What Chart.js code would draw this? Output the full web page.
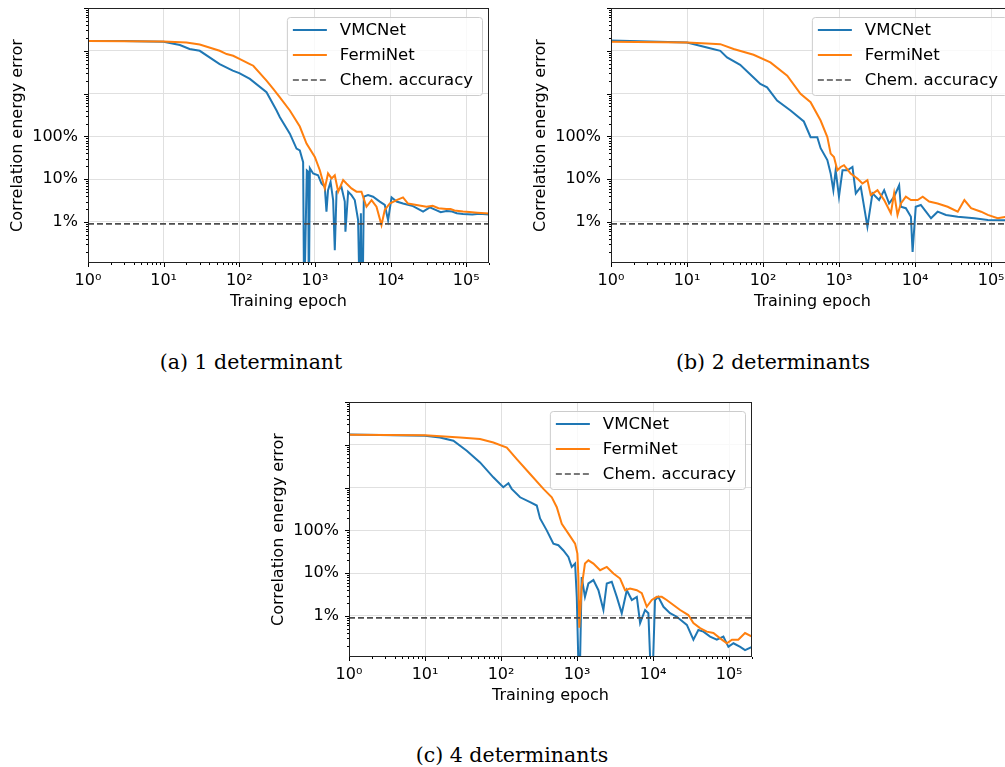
<!DOCTYPE html>
<html>
<head>
<meta charset="utf-8">
<script src="https://cdn.jsdelivr.net/npm/chart.js@4.4.1/dist/chart.umd.min.js"></script>
<style>
  html, body { margin: 0; padding: 0; background: #fff; width: 1005px; height: 767px; overflow: hidden; }
  canvas { position: absolute; }
  #cA { left: 0; top: 0; }
  #cB { left: 523px; top: 0; }
  #cC { left: 261px; top: 394px; }
  .cap { position: absolute; font-family: "DejaVu Serif", serif; font-size: 20.5px; color: #000;
         transform: translate(-50%, -50%); white-space: nowrap; }
</style>
</head>
<body>
<canvas id="cA" width="500" height="320"></canvas>
<canvas id="cB" width="502" height="320"></canvas>
<canvas id="cC" width="502" height="320"></canvas>
<div class="cap" style="left:251px; top:362px;">(a) 1 determinant</div>
<div class="cap" style="left:773px; top:362px;">(b) 2 determinants</div>
<div class="cap" style="left:512px; top:755px;">(c) 4 determinants</div>
<script>
// axis setup
const xMin = 1, xMax = 200000;
const yMin = 0.11, yMax = 100000;        // error in percent
const xTickValues = [1, 10, 100, 1000, 10000, 100000];
const xTickLabels = ["10⁰", "10¹", "10²", "10³", "10⁴", "10⁵"];
const yTickValues = [1, 10, 100];
const yTickLabels = ["1%", "10%", "100%"];
const chemAccuracy = 0.9;

const seriesNames = ["VMCNet", "FermiNet", "Chem. accuracy"];

// (a) 1 determinant
const epochsA_vmc = [1, 3, 10, 16.4, 22, 30, 55, 82, 100, 138, 229, 311, 344, 466, 571, 631, 698, 720, 781, 815, 830, 857, 946, 1100, 1220, 1350, 1420, 1490, 1610, 1740, 1830, 1930, 2240, 2480, 2530, 2750, 3040, 3360, 3720, 3920, 4050, 4150, 4250, 4430, 5040, 5870, 7200, 8380, 9270, 10300, 12000, 14600, 19800, 26900, 33000, 40000, 46000, 54700, 65000, 75000, 90700, 120000, 150000, 200000];
const errA_vmc    = [17000, 17000, 16200, 13600, 11000, 10000, 4900, 3430, 3000, 2200, 1080, 403, 281, 116, 52, 47, 25, 0.01, 16, 15, 0.01, 18, 13.6, 12.4, 7.9, 6.6, 1.74, 5.5, 8.6, 3.25, 0.22, 5.1, 6.6, 3.0, 0.59, 5.1, 4.25, 3.25, 1.1, 0.01, 1.6, 0.01, 0.01, 3.9, 4.25, 3.9, 3.0, 2.5, 1.1, 3.75, 3.0, 2.7, 2.35, 1.75, 2.2, 1.9, 1.7, 1.8, 1.75, 1.6, 1.53, 1.5, 1.55, 1.5];
const epochsA_fermi = [1, 10, 20, 30, 55, 68, 83, 102, 138, 153, 229, 281, 344, 466, 631, 774, 997, 1160, 1350, 1490, 1660, 1830, 2030, 2360, 2610, 3040, 3540, 4120, 4800, 5600, 6510, 7580, 8380, 9750, 12000, 14600, 17000, 29800, 36000, 43000, 54700, 62000, 70000, 90700, 110000, 140000, 200000];
const errA_fermi    = [17000, 16500, 15600, 14000, 10000, 8400, 7650, 6400, 4900, 4480, 2000, 1290, 820, 403, 170, 68, 33, 16.2, 6.1, 13.6, 10.4, 12.4, 5.1, 9.5, 7.9, 6.1, 5.1, 5.1, 2.27, 3.25, 2.27, 0.85, 1.9, 2.7, 3.25, 3.75, 2.7, 2.27, 2.4, 2.1, 2.0, 2.0, 1.85, 1.75, 1.7, 1.65, 1.58];

// (b) 2 determinants
const epochsB_vmc = [1, 10, 18.3, 27.4, 33.6, 50, 75, 92, 113, 153, 230, 344, 422, 517, 572, 701, 775, 841, 902, 997, 1110, 1290, 1500, 1660, 1930, 2360, 2750, 3360, 3920, 4550, 5300, 6170, 6500, 7560, 8810, 9270, 10200, 11900, 13900, 16200, 19800, 25500, 36400, 60300, 90400, 200000];
const errB_vmc    = [17500, 15600, 11900, 10000, 7000, 4700, 2390, 1680, 1400, 690, 403, 223, 96, 96, 53, 28, 13.6, 5.5, 16.2, 3.9, 16.2, 16.2, 19.3, 4.65, 6.6, 0.78, 4.65, 3.25, 5.55, 2.7, 3.9, 7.2, 2.27, 2.1, 1.33, 0.2, 2.27, 2.5, 1.74, 1.22, 1.74, 1.46, 1.33, 1.22, 1.11, 1.1];
const epochsB_fermi = [1, 10, 18.3, 27.4, 41, 75, 125, 208, 311, 422, 572, 701, 775, 857, 950, 1050, 1160, 1420, 1740, 2030, 2360, 2610, 3200, 3920, 4800, 5300, 5870, 6500, 7560, 8810, 10800, 12600, 15300, 19800, 26800, 36400, 44500, 54500, 73800, 90400, 122000, 158000, 200000];
const errB_fermi    = [16200, 15600, 14800, 14300, 11000, 8070, 5350, 2620, 984, 628, 235, 96, 39.6, 33, 16.2, 19.3, 21.2, 13.6, 10.4, 7.9, 9.5, 4.25, 5.55, 3.25, 1.6, 4.65, 1.46, 2.7, 3.9, 3.25, 3.25, 3.9, 3.0, 2.7, 2.27, 1.74, 3.25, 2.1, 1.74, 1.46, 1.22, 1.33, 1.3];

// (c) 4 determinants
const epochsC_vmc = [1, 10, 15.7, 23.6, 35.4, 52.9, 79.2, 107, 125, 138, 178, 241, 295, 326, 399, 488, 568, 661, 769, 851, 942, 991, 1070, 1150, 1270, 1410, 1640, 1910, 2220, 2460, 2860, 3330, 3870, 4510, 5250, 6110, 6750, 7850, 8670, 9620, 10600, 11700, 13700, 16700, 20500, 27800, 33900, 39400, 45900, 56200, 68900, 84100, 97900, 114000, 140000, 162000, 200000];
const errC_vmc    = [17500, 16200, 14800, 12400, 7240, 3870, 1740, 1020, 1260, 933, 594, 455, 381, 190, 100, 49, 45, 34, 24, 14, 16.8, 2.8, 0.01, 8.1, 2.8, 5.75, 6.9, 4.0, 1.38, 5.75, 6.3, 2.8, 1.16, 4.0, 2.36, 2.8, 0.68, 1.38, 1.16, 0.01, 2.36, 2.8, 1.64, 1.16, 0.96, 0.62, 0.28, 0.47, 0.43, 0.33, 0.28, 0.33, 0.19, 0.23, 0.19, 0.16, 0.19];
const epochsC_fermi = [1, 10, 28.9, 52.9, 79.2, 119, 161, 241, 361, 465, 541, 629, 769, 942, 1010, 1040, 1070, 1150, 1270, 1410, 1640, 2010, 2460, 3010, 3680, 4280, 4980, 6110, 7100, 8260, 9620, 11200, 13000, 15100, 18500, 22700, 29100, 33900, 41500, 50900, 62100, 76200, 93300, 109000, 132000, 162000, 200000];
const errC_fermi    = [17100, 16800, 14800, 13600, 11300, 8650, 4640, 2080, 933, 594, 348, 143, 84, 49, 28.7, 8.2, 0.53, 4.8, 16.8, 20, 16.8, 11.7, 14, 9.8, 7.5, 4.0, 4.4, 4.0, 3.4, 1.64, 2.36, 2.8, 2.8, 2.36, 1.8, 1.38, 1.05, 0.68, 0.52, 0.43, 0.4, 0.3, 0.23, 0.28, 0.28, 0.4, 0.33];

const blue = "#1f77b4", orange = "#ff7f0e", dashGray = "#4d4d4d";

Chart.defaults.font.family = "'DejaVu Sans', sans-serif";
Chart.defaults.font.size = 16;
Chart.defaults.color = "#000";

function pairs(xs, ys) {
  return xs.map((x, i) => ({ x: x, y: ys[i] }));
}

function logTicks(min, max) {
  const out = [];
  for (let e = Math.floor(Math.log10(min)); e <= Math.ceil(Math.log10(max)); e++) {
    for (let m = 1; m < 10; m++) {
      const v = m * Math.pow(10, e);
      if (v >= min * 0.999 && v <= max * 1.001) out.push({ value: v, major: m === 1 });
    }
  }
  return out;
}

function labelFor(value, values, labels) {
  const i = values.findIndex(v => Math.abs(v - value) < v * 1e-9);
  return i < 0 ? "" : labels[i];
}

const decorPlugin = {
  id: "decor",
  afterDraw(chart) {
    const { ctx, chartArea: a, scales } = chart;
    ctx.save();
    // tick marks
    ctx.strokeStyle = "#000";
    ctx.lineWidth = 1;
    scales.x.ticks.forEach(t => {
      const px = Math.round(scales.x.getPixelForValue(t.value)) + 0.5;
      ctx.beginPath();
      ctx.moveTo(px, a.bottom);
      ctx.lineTo(px, a.bottom + (t.major ? 4 : 2));
      ctx.stroke();
    });
    scales.y.ticks.forEach(t => {
      const py = Math.round(scales.y.getPixelForValue(t.value)) + 0.5;
      ctx.beginPath();
      ctx.moveTo(a.left, py);
      ctx.lineTo(a.left - (t.major ? 4 : 2), py);
      ctx.stroke();
    });
    // frame
    ctx.strokeStyle = "#222";
    ctx.strokeRect(a.left + 0.5, a.top + 0.5, a.right - a.left - 1, a.bottom - a.top - 1);

    // legend, top right inside the axes
    const ds = chart.data.datasets;
    ctx.font = "16.5px 'DejaVu Sans', sans-serif";
    const textW = Math.max(...ds.map(d => ctx.measureText(d.label).width));
    const w = 53 + textW + 9, h = 78;
    const bx = a.right - 7 - w, by = a.top + 9;
    ctx.beginPath();
    ctx.roundRect(bx + 0.5, by + 0.5, w, h, 3);
    ctx.fillStyle = "rgba(255,255,255,0.8)";
    ctx.fill();
    ctx.strokeStyle = "#cccccc";
    ctx.stroke();
    ds.forEach((d, i) => {
      const y = by + 13 + i * 25;
      ctx.beginPath();
      ctx.setLineDash(d.borderDash || []);
      ctx.strokeStyle = d.borderColor;
      ctx.lineWidth = d.borderWidth;
      ctx.moveTo(bx + 6, y);
      ctx.lineTo(bx + 40, y);
      ctx.stroke();
      ctx.setLineDash([]);
      ctx.fillStyle = "#000";
      ctx.textBaseline = "middle";
      ctx.fillText(d.label, bx + 53, y + 1);
    });
    ctx.restore();
  }
};

function makeChart(id, vmcX, vmcY, fermiX, fermiY) {
  return new Chart(document.getElementById(id), {
    type: "line",
    data: {
      datasets: [
        { label: seriesNames[0], data: pairs(vmcX, vmcY), borderColor: blue, borderWidth: 2, order: 3 },
        { label: seriesNames[1], data: pairs(fermiX, fermiY), borderColor: orange, borderWidth: 2, order: 2 },
        { label: seriesNames[2], data: [{ x: xMin, y: chemAccuracy }, { x: xMax, y: chemAccuracy }],
          borderColor: dashGray, borderWidth: 1.7, borderDash: [6, 3], order: 1 }
      ]
    },
    options: {
      responsive: false,
      animation: false,
      devicePixelRatio: 1,
      layout: { padding: { top: 8, right: 11, left: 0, bottom: 0 } },
      elements: { point: { radius: 0 }, line: { tension: 0 } },
      datasets: { line: { clip: 0 } },
      plugins: { legend: { display: false }, tooltip: { enabled: false } },
      scales: {
        x: {
          type: "logarithmic",
          min: xMin, max: xMax,
          afterBuildTicks: s => { s.ticks = logTicks(xMin, xMax); },
          afterFit: s => { s.height = 57; s.paddingLeft = 0; s.paddingRight = 0; },
          ticks: {
            autoSkip: false, maxRotation: 0, padding: 8,
            callback: v => labelFor(v, xTickValues, xTickLabels)
          },
          grid: {
            drawTicks: false,
            color: c => (c.tick && c.tick.major ? "#e0e0e0" : "rgba(0,0,0,0)")
          },
          border: { display: false },
          title: { display: true, text: "Training epoch", padding: { top: 0, bottom: 9 } }
        },
        y: {
          type: "logarithmic",
          min: yMin, max: yMax,
          afterBuildTicks: s => { s.ticks = logTicks(yMin, yMax); },
          afterFit: s => { s.width = 88; s.paddingTop = 0; s.paddingBottom = 0; },
          ticks: {
            autoSkip: false, padding: 10,
            callback: v => labelFor(v, yTickValues, yTickLabels)
          },
          grid: {
            drawTicks: false,
            color: c => (c.tick && c.tick.major ? "#e0e0e0" : "rgba(0,0,0,0)")
          },
          border: { display: false },
          title: { display: true, text: "Correlation energy error", padding: { top: 8, bottom: 0 } }
        }
      }
    },
    plugins: [decorPlugin]
  });
}

makeChart("cA", epochsA_vmc, errA_vmc, epochsA_fermi, errA_fermi);
makeChart("cB", epochsB_vmc, errB_vmc, epochsB_fermi, errB_fermi);
makeChart("cC", epochsC_vmc, errC_vmc, epochsC_fermi, errC_fermi);
</script>
</body>
</html>
